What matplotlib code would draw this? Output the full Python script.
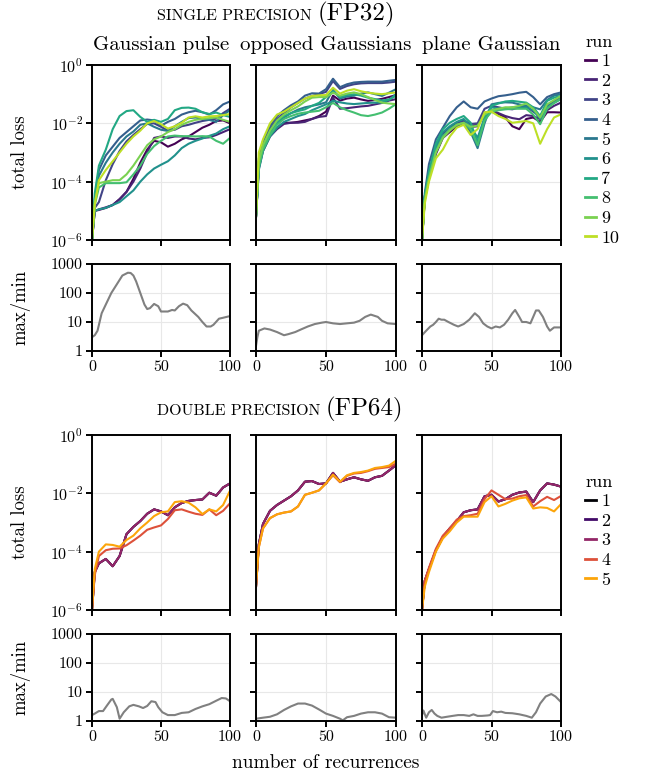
import matplotlib
matplotlib.use("Agg")
import matplotlib.pyplot as plt
import numpy as np

plt.rcParams['font.family'] = 'cmr10'
plt.rcParams['mathtext.fontset'] = 'cm'
plt.rcParams['axes.unicode_minus'] = False

W, H = 649, 773

# shared x grid (number of recurrences) for the loss curves
steps = [0, 2, 5, 10, 15, 20, 25, 30, 35, 40, 45, 50, 55, 60, 65, 70, 75, 80, 85, 90, 95, 100]

# ---- single precision, log10(total loss), one list per run ----
fp32_pulse = [
    [-6, -5.0, -4.97, -4.9, -4.8, -4.6, -4.35, -3.9, -3.35, -2.9, -2.6, -2.65, -2.8, -2.7, -2.55, -2.45, -2.3, -2.15, -2.05, -1.92, -1.9, -2.0],
    [-6, -5.0, -4.95, -4.88, -4.8, -4.6, -4.35, -4.0, -3.55, -3.0, -2.5, -2.45, -2.5, -2.45, -2.45, -2.52, -2.55, -2.5, -2.48, -2.4, -2.3, -2.2],
    [-6, -4.9, -4.7, -3.95, -3.4, -2.95, -2.62, -2.4, -2.2, -2.02, -2.0, -2.12, -2.25, -2.22, -2.1, -2.05, -1.98, -1.92, -1.88, -1.84, -1.65, -1.5],
    [-6, -4.6, -3.6, -3.1, -2.8, -2.5, -2.3, -2.1, -1.9, -1.87, -1.9, -2.08, -1.95, -1.85, -1.7, -1.62, -1.57, -1.62, -1.7, -1.55, -1.35, -1.25],
    [-6, -4.7, -3.8, -3.35, -3.0, -2.7, -2.45, -2.28, -2.05, -2.0, -2.12, -2.22, -2.26, -2.1, -1.95, -1.82, -1.8, -1.85, -1.88, -1.95, -1.72, -1.55],
    [-6, -5.0, -4.95, -4.9, -4.8, -4.7, -4.5, -4.3, -4.0, -3.75, -3.55, -3.42, -3.3, -3.1, -2.85, -2.7, -2.6, -2.52, -2.43, -2.35, -2.2, -2.1],
    [-6, -4.4, -3.45, -2.9, -2.2, -1.75, -1.58, -1.55, -1.78, -1.95, -1.88, -1.95, -1.85, -1.55, -1.47, -1.46, -1.5, -1.62, -1.68, -1.63, -1.72, -1.78],
    [-6, -4.8, -4.2, -4.05, -4.05, -4.05, -4.02, -3.75, -3.45, -3.05, -2.78, -2.6, -2.45, -2.42, -2.44, -2.44, -2.45, -2.44, -2.45, -2.6, -2.7, -2.5],
    [-6, -4.7, -4.05, -4.0, -3.95, -3.95, -3.75, -3.45, -3.1, -2.75, -2.55, -2.45, -2.3, -2.2, -2.05, -1.95, -1.88, -1.85, -1.82, -1.8, -1.88, -1.95],
    [-6, -4.8, -3.95, -3.6, -3.3, -3.0, -2.7, -2.45, -2.25, -2.0, -1.92, -2.03, -2.18, -2.1, -1.98, -1.8, -1.76, -1.8, -1.76, -1.75, -1.72, -1.68],
]
fp32_opposed = [
    [-5.2, -3.45, -2.9, -2.4, -2.15, -1.98, -1.98, -1.95, -1.9, -1.85, -1.75, -1.6, -1.05, -1.22, -1.15, -1.12, -1.18, -1.23, -1.2, -1.16, -1.1, -1.03],
    [-5.2, -3.55, -2.95, -2.45, -2.2, -2.02, -1.98, -1.98, -1.95, -1.85, -1.78, -1.75, -1.12, -1.5, -1.48, -1.45, -1.42, -1.4, -1.35, -1.3, -1.22, -1.17],
    [-5.2, -3.3, -2.7, -2.2, -1.85, -1.65, -1.45, -1.3, -1.15, -1.06, -1.0, -0.92, -0.55, -0.82, -0.72, -0.66, -0.63, -0.62, -0.62, -0.62, -0.6, -0.57],
    [-5.2, -3.2, -2.6, -2.1, -1.75, -1.55, -1.38, -1.25, -1.05, -0.97, -0.98, -0.83, -0.47, -0.76, -0.66, -0.6, -0.58, -0.57, -0.57, -0.57, -0.54, -0.51],
    [-5.2, -3.5, -2.85, -2.35, -2.0, -1.8, -1.65, -1.53, -1.45, -1.4, -1.35, -1.28, -0.85, -1.15, -1.08, -1.05, -0.98, -0.94, -1.0, -1.06, -0.95, -0.83],
    [-5.2, -3.6, -2.95, -2.45, -2.15, -1.95, -1.85, -1.75, -1.68, -1.55, -1.45, -1.35, -1.23, -1.28, -1.32, -1.34, -1.32, -1.3, -1.29, -1.29, -1.2, -1.0],
    [-5.2, -3.4, -2.8, -2.3, -1.95, -1.75, -1.65, -1.58, -1.52, -1.4, -1.3, -1.1, -0.9, -1.1, -1.03, -1.0, -1.05, -1.12, -1.17, -1.22, -1.18, -1.06],
    [-5.2, -3.5, -2.9, -2.4, -2.05, -1.85, -1.75, -1.67, -1.63, -1.6, -1.57, -1.45, -1.3, -1.45, -1.55, -1.63, -1.72, -1.75, -1.7, -1.63, -1.5, -1.34],
    [-5.2, -3.3, -2.75, -2.25, -1.9, -1.7, -1.55, -1.42, -1.25, -1.12, -1.1, -1.1, -0.95, -1.05, -0.98, -0.94, -1.0, -1.1, -1.2, -1.29, -1.32, -1.34],
    [-5.2, -3.0, -2.55, -2.0, -1.7, -1.6, -1.45, -1.3, -1.15, -1.06, -1.04, -1.03, -0.78, -0.98, -0.88, -0.83, -0.9, -0.95, -0.98, -1.0, -0.97, -0.94],
]
fp32_plane = [
    [-6, -4.6, -3.9, -3.05, -2.5, -2.3, -2.1, -1.98, -2.12, -2.1, -1.7, -1.6, -1.68, -1.8, -2.1, -2.2, -1.85, -1.8, -1.95, -1.62, -1.62, -1.63],
    [-6, -4.55, -3.85, -2.95, -2.45, -2.25, -2.05, -1.95, -2.08, -2.05, -1.65, -1.55, -1.65, -1.75, -1.82, -1.86, -1.72, -1.75, -1.85, -1.55, -1.4, -1.29],
    [-6, -4.5, -3.75, -2.9, -2.35, -2.15, -2.0, -1.9, -2.02, -2.0, -1.5, -1.4, -1.45, -1.5, -1.52, -1.45, -1.42, -1.6, -1.75, -1.4, -1.25, -1.11],
    [-6, -4.4, -3.4, -2.55, -2.15, -1.75, -1.45, -1.25, -1.45, -1.5, -1.25, -1.15, -1.07, -1.04, -1.0, -0.95, -0.92, -1.1, -1.35, -1.1, -1.0, -0.94],
    [-6, -4.5, -3.7, -2.85, -2.45, -2.2, -2.05, -1.98, -2.3, -2.85, -2.0, -1.35, -1.3, -1.28, -1.29, -1.35, -1.4, -1.45, -1.52, -1.2, -1.05, -1.0],
    [-6, -4.55, -3.75, -2.8, -2.3, -2.1, -1.95, -1.85, -2.1, -2.5, -1.8, -1.45, -1.5, -1.5, -1.45, -1.45, -1.45, -1.55, -1.85, -1.45, -1.3, -1.17],
    [-6, -4.5, -3.65, -2.7, -2.2, -1.98, -1.85, -1.75, -1.98, -2.65, -1.85, -1.4, -1.32, -1.25, -1.23, -1.26, -1.29, -1.45, -1.75, -1.23, -1.12, -1.06],
    [-6, -4.6, -3.85, -2.95, -2.45, -2.2, -2.05, -1.98, -2.2, -2.75, -1.9, -1.6, -1.55, -1.52, -1.5, -1.5, -1.5, -1.7, -2.03, -1.5, -1.3, -1.15],
    [-6, -4.65, -3.9, -3.0, -2.5, -2.25, -2.05, -1.98, -2.12, -2.08, -1.7, -1.55, -1.5, -1.45, -1.45, -1.4, -1.32, -1.5, -1.8, -1.35, -1.2, -1.06],
    [-6, -4.75, -4.0, -3.2, -2.9, -2.45, -2.15, -2.05, -2.4, -2.2, -1.62, -1.6, -1.75, -1.85, -1.98, -1.95, -1.92, -2.0, -2.7, -2.2, -1.8, -1.69],
]

# ---- double precision, log10(total loss); runs 1-3 coincide ----
fp64_pulse_a = [-6, -4.7, -4.4, -4.25, -4.5, -4.15, -3.4, -3.15, -2.95, -2.7, -2.55, -2.62, -2.75, -2.48, -2.33, -2.26, -2.23, -2.21, -1.98, -2.08, -1.8, -1.66]
fp64_pulse_4 = [-6, -4.8, -4.15, -3.95, -3.9, -3.89, -3.78, -3.62, -3.45, -3.25, -3.17, -3.1, -2.88, -2.58, -2.55, -2.63, -2.7, -2.74, -2.55, -2.75, -2.6, -2.34]
fp64_pulse_5 = [-6, -4.6, -4.0, -3.75, -3.77, -3.83, -3.6, -3.45, -3.2, -3.0, -2.78, -2.65, -2.62, -2.3, -2.27, -2.32, -2.48, -2.71, -2.55, -2.62, -2.4, -1.91]
fp64_opposed_a = [-5.2, -3.75, -3.05, -2.6, -2.4, -2.25, -2.1, -1.9, -1.6, -1.58, -1.68, -1.66, -1.3, -1.6, -1.52, -1.45, -1.52, -1.57, -1.45, -1.4, -1.22, -1.03]
fp64_opposed_4 = [-5.2, -3.85, -3.2, -2.85, -2.72, -2.66, -2.62, -2.45, -2.05, -1.98, -1.9, -1.66, -1.38, -1.62, -1.4, -1.32, -1.3, -1.24, -1.16, -1.13, -1.1, -0.98]
fp64_opposed_5 = [-5.2, -3.85, -3.2, -2.85, -2.72, -2.66, -2.62, -2.45, -2.05, -1.98, -1.9, -1.66, -1.36, -1.6, -1.38, -1.3, -1.27, -1.22, -1.13, -1.1, -1.05, -0.88]
fp64_plane_a = [-6, -5.0, -4.6, -3.95, -3.5, -3.2, -2.95, -2.65, -2.58, -2.55, -2.1, -2.05, -2.28, -2.2, -2.05, -1.97, -1.94, -2.3, -1.9, -1.66, -1.7, -1.77]
fp64_plane_4 = [-6, -5.0, -4.55, -3.9, -3.45, -3.2, -2.9, -2.78, -2.75, -2.7, -2.2, -1.9, -2.05, -2.2, -2.18, -2.1, -2.06, -2.45, -2.27, -2.12, -2.23, -2.09]
fp64_plane_5 = [-6, -5.2, -4.7, -4.0, -3.55, -3.3, -3.0, -2.8, -2.8, -2.8, -2.3, -2.1, -2.45, -2.36, -2.25, -2.17, -2.14, -2.52, -2.48, -2.5, -2.62, -2.37]

fp64_pulse = [fp64_pulse_a, fp64_pulse_a, fp64_pulse_a, fp64_pulse_4, fp64_pulse_5]
fp64_opposed = [fp64_opposed_a, fp64_opposed_a, fp64_opposed_a, fp64_opposed_4, fp64_opposed_5]
fp64_plane = [fp64_plane_a, fp64_plane_a, fp64_plane_a, fp64_plane_4, fp64_plane_5]

# ---- max/min ratio across runs ----
r32_pulse_x = [0, 2, 4, 7, 10, 14, 18, 22, 26, 28, 30, 32, 35, 38, 40, 42, 45, 48, 50, 55, 58, 60, 63, 66, 69, 72, 77, 80, 83, 86, 88, 92, 95, 100]
r32_pulse = [3, 3.5, 5, 20, 40, 100, 200, 400, 500, 490, 400, 250, 100, 40, 28, 30, 42, 35, 23, 23, 26, 25, 35, 43, 38, 25, 15, 10, 7, 7, 8, 13, 14, 16]
r32_opp_x = [0, 1, 2, 6, 10, 15, 20, 23, 28, 32, 37, 42, 47, 50, 55, 60, 65, 70, 74, 78, 82, 87, 90, 94, 100]
r32_opp = [1.5, 3, 5, 6, 5.5, 4.5, 3.5, 3.8, 4.5, 5.5, 7, 8.5, 9.5, 10, 9, 8.5, 9, 9.5, 11, 15, 18, 15, 11, 9, 8.5]
r32_plane_x = [0, 3, 6, 8, 10, 12, 14, 16, 19, 23, 26, 30, 34, 38, 41, 44, 47, 50, 53, 56, 59, 62, 65, 67, 70, 72, 75, 78, 80, 82, 84, 87, 90, 92, 95, 100]
r32_plane = [3.5, 5, 7, 8, 10, 13, 12, 12, 10, 8, 7, 8.5, 12, 20, 15, 9, 7, 6, 7, 6.5, 8, 12, 20, 26, 15, 10, 10, 9, 15, 25, 25, 15, 7, 5, 6.5, 6.5]
r64_pulse_x = [0, 2, 5, 8, 11, 14, 15, 18, 20, 23, 27, 30, 34, 37, 40, 43, 46, 48, 51, 55, 60, 65, 70, 75, 80, 85, 90, 94, 97, 100]
r64_pulse = [1.6, 1.8, 2.2, 2.2, 3.5, 5.5, 5.8, 3, 1.2, 2, 3.2, 3.6, 3.2, 2.8, 3.3, 4.8, 4.5, 3, 2, 1.6, 1.6, 1.9, 2.0, 2.6, 3.2, 3.8, 5, 6.2, 6, 4.8]
r64_opp_x = [0, 5, 10, 15, 20, 25, 30, 35, 40, 45, 50, 55, 60, 62, 65, 70, 75, 80, 85, 90, 95, 100]
r64_opp = [1.2, 1.3, 1.4, 1.7, 2.4, 3.2, 4, 4, 3.4, 2.5, 1.8, 1.5, 1.2, 1.05, 1.35, 1.5, 1.8, 2.0, 2.0, 1.8, 1.35, 1.3]
r64_plane_x = [0, 1, 3, 5, 7, 9, 11, 14, 18, 22, 26, 30, 34, 37, 40, 43, 47, 49, 51, 54, 57, 60, 65, 70, 75, 79, 82, 85, 89, 93, 96, 100]
r64_plane = [1.6, 2.3, 1.3, 2, 2.4, 1.8, 1.5, 1.3, 1.4, 1.5, 1.6, 1.6, 1.5, 1.7, 1.5, 1.5, 1.55, 1.6, 2.2, 2.0, 2.1, 1.9, 1.85, 1.7, 1.5, 1.3, 2, 4, 7, 8.5, 7, 4.5]

titles = ["Gaussian pulse", "opposed Gaussians", "plane Gaussian"]
colors32 = plt.cm.viridis(np.linspace(0, 0.9, 10))
colors64 = plt.cm.inferno(np.linspace(0, 0.8, 5))


def rect(l, t, r, b):
    return [l / W, 1 - b / H, (r - l) / W, (b - t) / H]


def style(ax, show_y):
    ax.set_xlim(0, 100)
    ax.set_xticks([0, 50, 100])
    ax.minorticks_off()
    ax.grid(True, color='#e8e8e8', lw=0.8)
    ax.set_axisbelow(True)
    for s in ax.spines.values():
        s.set_linewidth(1.4)
    ax.tick_params(direction='out', length=4, width=1.4, labelsize=11.5, pad=2.5)
    if not show_y:
        ax.tick_params(labelleft=False)


fig = plt.figure(figsize=(W / 100, H / 100), dpi=100)
cols = [(92, 230), (256, 396), (422, 561)]
blocks = [
    (65, 240, 264, 351, [fp32_pulse, fp32_opposed, fp32_plane], colors32,
     [(r32_pulse_x, r32_pulse), (r32_opp_x, r32_opp), (r32_plane_x, r32_plane)]),
    (435, 610, 634, 721, [fp64_pulse, fp64_opposed, fp64_plane], colors64,
     [(r64_pulse_x, r64_pulse), (r64_opp_x, r64_opp), (r64_plane_x, r64_plane)]),
]

for bi, (lt, lb, rt, rb, runs, cols_c, ratios) in enumerate(blocks):
    for ci, (l, r) in enumerate(cols):
        ax = fig.add_axes(rect(l, lt, r, lb))
        for k, run in enumerate(runs[ci]):
            ax.plot(steps, 10 ** np.array(run), color=cols_c[k], lw=1.5, label=str(k + 1))
        ax.set_yscale('log')
        ax.set_ylim(1e-6, 1)
        ax.set_yticks([1e-6, 1e-4, 1e-2, 1])
        ax.set_yticklabels([r'$10^{-6}$', r'$10^{-4}$', r'$10^{-2}$', r'$10^{0}$'])
        style(ax, ci == 0)
        ax.tick_params(labelbottom=False)
        if bi == 0:
            fig.text((l + r) / 2 / W, 1 - 50 / H, titles[ci], ha='center', va='baseline', fontsize=15)
        if ci == 2:
            h, lab = ax.get_legend_handles_labels()
            top = 27 if bi == 0 else 467
            leg = fig.legend(h, lab, title='run', loc='upper left',
                             bbox_to_anchor=(578 / W, 1 - top / H), frameon=False,
                             handlelength=0.6, handletextpad=0.3, labelspacing=0.22,
                             fontsize=13, title_fontsize=13, borderaxespad=0)
            leg._legend_box.align = 'left'
            for line in leg.get_lines():
                line.set_linewidth(2)

        ax2 = fig.add_axes(rect(l, rt, r, rb))
        rx, ry = ratios[ci]
        ax2.plot(rx, ry, color='#808080', lw=1.5)
        ax2.set_yscale('log')
        ax2.set_ylim(1, 1000)
        ax2.set_yticks([1, 10, 100, 1000])
        ax2.set_yticklabels(['1', '10', '100', '1000'])
        style(ax2, ci == 0)

    fig.text(20 / W, 1 - (lt + lb) / 2 / H, 'total loss', rotation=90, ha='center', va='center', fontsize=13.5)
    fig.text(20 / W, 1 - (rt + rb) / 2 / H, 'max/min', rotation=90, ha='center', va='center', fontsize=13.5)

# section headings in small caps style
fig.text(312 / W, 1 - 20 / H, 'SINGLE PRECISION', ha='right', va='baseline', fontsize=11.5)
fig.text(318 / W, 1 - 20 / H, '(FP32)', ha='left', va='baseline', fontsize=18)
fig.text(320 / W, 1 - 415 / H, 'DOUBLE PRECISION', ha='right', va='baseline', fontsize=11.5)
fig.text(326 / W, 1 - 415 / H, '(FP64)', ha='left', va='baseline', fontsize=18)

fig.text(326 / W, 1 - 768 / H, 'number of recurrences', ha='center', va='baseline', fontsize=14)

fig.savefig('out.png', dpi=100)
